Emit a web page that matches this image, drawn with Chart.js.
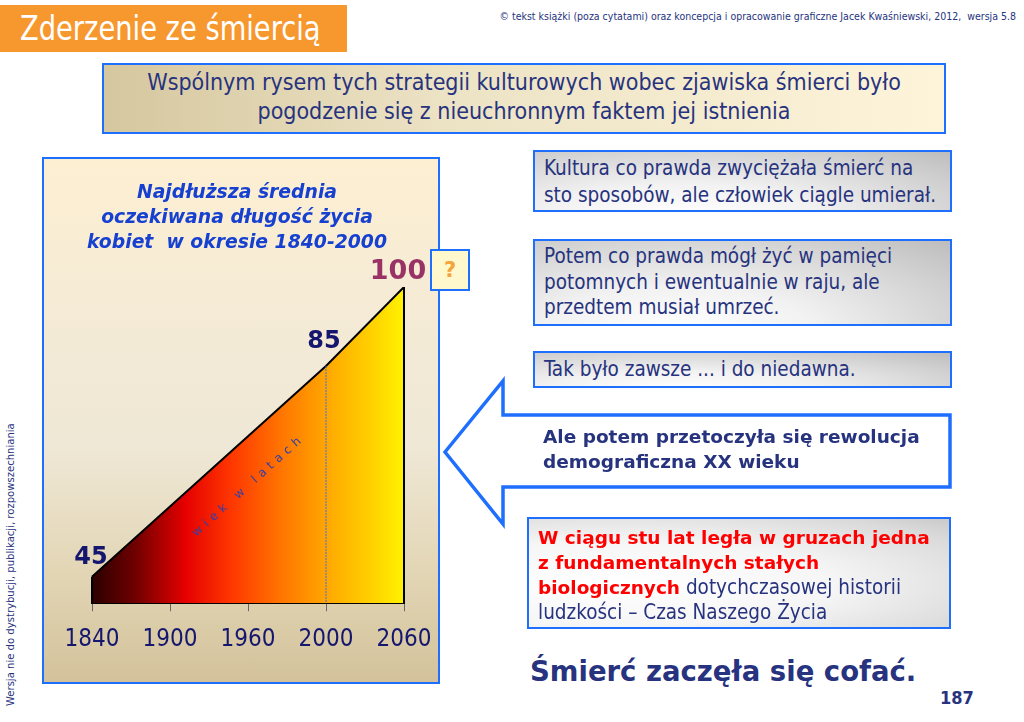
<!DOCTYPE html>
<html lang="pl">
<head>
<meta charset="utf-8">
<title>Zderzenie ze śmiercią</title>
<script src="https://cdn.jsdelivr.net/npm/chart.js@4.4.0/dist/chart.umd.min.js"></script>
<style>
  html, body { margin: 0; padding: 0; background: #fff; }
  body { width: 1024px; height: 722px; position: relative; overflow: hidden;
         font-family: "DejaVu Sans Condensed", "DejaVu Sans", sans-serif; color: #27337e; }
  .abs { position: absolute; }
  #header { left: 0; top: 5px; width: 347px; height: 47px; background: #f7982f; }
  #header span { position: absolute; left: 20px; top: 4px; font-size: 33px; color: #fff;
                 transform: scaleX(0.92); transform-origin: left top; white-space: nowrap; }
  #copy { right: 8px; top: 10px; font-size: 10.5px; color: #27337e; white-space: nowrap; }
  #banner { left: 102px; top: 63px; width: 840px; height: 64px; border: 2px solid #1f6fff;
            background: linear-gradient(90deg, #d5c79f 0%, #ece2c4 40%, #fdf4da 100%);
            text-align: center; font-size: 23px; line-height: 29px; padding-top: 3px; box-sizing: content-box; }
  #panel { left: 42px; top: 157px; width: 394px; height: 523px; border: 2px solid #1f6fff;
           background: linear-gradient(180deg, #fdefd2 0%, #f3ead6 35%, #efe8d6 55%, #e2d5b4 80%, #d3c29b 100%); }
  #chartTitle { left: 42px; top: 179px; width: 390px; text-align: center; color: #1640d0;
                font-family: "DejaVu Sans", sans-serif; font-weight: bold; font-style: italic;
                font-size: 18.8px; line-height: 25px; }
  #chartCanvas { left: 42px; top: 157px; }
  #qbox { left: 430px; top: 249px; width: 36px; height: 38px; border: 2px solid #1f6fff;
          background: #fff8cc; text-align: center; font-family: "DejaVu Sans", sans-serif;
          font-weight: bold; font-size: 21px; line-height: 38px; color: #f4a43a; }
  .note { border: 2px solid #1f6fff; box-sizing: border-box; font-size: 20.5px; color: #27337e;
          background: radial-gradient(ellipse at 35% 110%, #ffffff 0%, #f2f2f2 35%, #d2d2d2 75%, #bdbdbd 100%);
          padding-left: 9px; white-space: nowrap; }
  #n1 { left: 533px; top: 150px; width: 419px; height: 62px; line-height: 27px; padding-top: 3px; }
  #n2 { left: 533px; top: 239px; width: 419px; height: 87px; line-height: 25.5px; padding-top: 3px; }
  #n3 { left: 533px; top: 351px; width: 419px; height: 37px; line-height: 33px; }
  #arrow { left: 440px; top: 376px; }
  #arrowText { left: 543px; top: 424px; font-family: "DejaVu Sans", sans-serif; font-weight: bold;
               font-size: 18.5px; line-height: 25px; color: #27337e; white-space: nowrap; }
  #n4 { left: 527px; top: 517px; width: 424px; height: 112px; line-height: 25px; padding-top: 6px;
        background: radial-gradient(ellipse at 20% 60%, #ffffff 0%, #f6f6f6 45%, #dadada 85%, #cacaca 100%); }
  #n4 b { color: #ff0000; font-family: "DejaVu Sans", sans-serif; font-size: 18.5px; }
  #closing { left: 530px; top: 655px; font-family: "DejaVu Sans", sans-serif; font-weight: bold;
             font-size: 27.5px; color: #27337e; white-space: nowrap; }
  #pageNo { left: 940px; top: 687px; font-weight: bold; font-size: 18px; color: #27337e; }
  #sideNote { left: 4px; top: 706px; font-size: 11.2px; color: #27337e; white-space: nowrap;
              transform: rotate(-90deg); transform-origin: left top; }
</style>
</head>
<body>

<div id="header" class="abs"><span>Zderzenie ze śmiercią</span></div>
<div id="copy" class="abs">© tekst książki (poza cytatami) oraz koncepcja i opracowanie graficzne Jacek Kwaśniewski, 2012,&nbsp; wersja 5.8</div>

<div id="banner" class="abs">
  <div>Wspólnym rysem tych strategii kulturowych wobec zjawiska śmierci było</div>
  <div>pogodzenie się z nieuchronnym faktem jej istnienia</div>
</div>

<div id="panel" class="abs"></div>
<canvas id="chartCanvas" class="abs" width="420" height="527"></canvas>
<div id="chartTitle" class="abs">Najdłuższa średnia<br>oczekiwana długość życia<br>kobiet&nbsp; w okresie 1840-2000</div>
<div id="qbox" class="abs">?</div>

<div id="n1" class="abs note">Kultura co prawda zwyciężała śmierć na<br>sto sposobów, ale człowiek ciągle umierał.</div>
<div id="n2" class="abs note">Potem co prawda mógł żyć w pamięci<br>potomnych i ewentualnie w raju, ale<br>przedtem musiał umrzeć.</div>
<div id="n3" class="abs note">Tak było zawsze ... i do niedawna.</div>

<svg id="arrow" class="abs" width="520" height="160">
  <polygon points="5,76 63,5 63,39 510,39 510,111 63,111 63,148"
           fill="#ffffff" stroke="#1f6fff" stroke-width="3.5" stroke-linejoin="miter"/>
</svg>
<div id="arrowText" class="abs">Ale potem przetoczyła się rewolucja<br>demograficzna XX wieku</div>

<div id="n4" class="abs note"><b>W ciągu stu lat legła w gruzach jedna<br>z fundamentalnych stałych<br>biologicznych</b> dotychczasowej historii<br>ludzkości – Czas Naszego Życia</div>

<div id="closing" class="abs">Śmierć zaczęła się cofać.</div>
<div id="pageNo" class="abs">187</div>
<div id="sideNote" class="abs">Wersja nie do dystrybucji, publikacji, rozpowszechniania</div>

<script>
// Chart data
const years = ['1840', '1900', '1960', '2000', '2060'];
const lifeExpectancy = [45, null, null, 85, 100];
const valueLabels = ['45', '', '', '85', '100'];
const labelColors = ['#15166e', '', '', '#15166e', '#993366'];
const slopeText = 'wiek w latach';

const condensed = '"DejaVu Sans Condensed", "DejaVu Sans", sans-serif';

// Horizontal fire gradient under the line
function fireGradient(context) {
    const chart = context.chart;
    const area = chart.chartArea;
    if (!area) return null;
    const g = chart.ctx.createLinearGradient(area.left, 0, area.right, 0);
    g.addColorStop(0.00, '#2a0000');
    g.addColorStop(0.14, '#700000');
    g.addColorStop(0.30, '#e60000');
    g.addColorStop(0.45, '#ff3800');
    g.addColorStop(0.62, '#ff7a00');
    g.addColorStop(0.78, '#ffb000');
    g.addColorStop(0.90, '#ffd200');
    g.addColorStop(1.00, '#fff200');
    return g;
}

// Edges, the 2000 marker and value labels
const decorations = {
    id: 'decorations',
    afterDatasetsDraw(chart) {
        const ctx = chart.ctx;
        const pts = chart.getDatasetMeta(0).data;
        const yScale = chart.scales.y;
        const base = yScale.getPixelForValue(yScale.min);
        const first = pts[0];
        const last = pts[pts.length - 1];
        const mark = pts[3];

        ctx.save();
        // dotted line at 2000
        ctx.strokeStyle = '#3a6cff';
        ctx.lineWidth = 1;
        ctx.setLineDash([2, 1]);
        ctx.beginPath();
        ctx.moveTo(mark.x, mark.y);
        ctx.lineTo(mark.x, base);
        ctx.stroke();
        ctx.setLineDash([]);

        // side edges of the area
        ctx.strokeStyle = '#000';
        ctx.lineWidth = 2;
        ctx.beginPath();
        ctx.moveTo(first.x, first.y);
        ctx.lineTo(first.x, base);
        ctx.moveTo(last.x, last.y);
        ctx.lineTo(last.x, base);
        ctx.stroke();

        // value labels
        ctx.textAlign = 'center';
        ctx.textBaseline = 'alphabetic';
        const offsets = [[-1, -13], null, null, [-2, -18], [-6, -8]];
        valueLabels.forEach((txt, i) => {
            if (!txt) return;
            const p = pts[i];
            const size = i === 4 ? 27 : 24;
            ctx.font = 'bold ' + size + 'px "DejaVu Sans", sans-serif';
            ctx.fillStyle = labelColors[i];
            ctx.fillText(txt, p.x + offsets[i][0], p.y + offsets[i][1]);
        });

        // slanted caption inside the area
        const angle = Math.atan2(mark.y - first.y, mark.x - first.x);
        const t = 0.67;
        const cx = first.x + (mark.x - first.x) * t;
        const cy = first.y + (mark.y - first.y) * t + 50;
        ctx.translate(cx, cy);
        ctx.rotate(angle);
        ctx.font = '12px "DejaVu Sans", sans-serif';
        ctx.letterSpacing = '5px';
        ctx.fillStyle = '#3040a8';
        ctx.textBaseline = 'middle';
        ctx.fillText(slopeText, 0, 0);
        ctx.restore();
    }
};

const chart = new Chart(document.getElementById('chartCanvas').getContext('2d'), {
    type: 'line',
    data: {
        labels: years,
        datasets: [{
            data: lifeExpectancy,
            spanGaps: true,
            borderColor: '#000',
            borderWidth: 2,
            tension: 0,
            pointRadius: 0,
            fill: 'start',
            backgroundColor: fireGradient
        }]
    },
    options: {
        responsive: false,
        animation: false,
        layout: {
            padding: { left: 50, right: 58, top: 130, bottom: 16 }
        },
        plugins: {
            legend: { display: false },
            tooltip: { enabled: false }
        },
        scales: {
            x: {
                type: 'category',
                offset: false,
                grid: {
                    display: true,
                    drawOnChartArea: false,
                    drawTicks: true,
                    tickLength: 8,
                    color: '#666'
                },
                border: { display: true, color: '#000', width: 2 },
                ticks: {
                    color: '#15166e',
                    font: { family: condensed, size: 24 },
                    padding: 14,
                    maxRotation: 0,
                    autoSkip: false
                }
            },
            y: {
                display: false,
                min: 40,
                max: 100
            }
        }
    },
    plugins: [decorations]
});
</script>
</body>
</html>
